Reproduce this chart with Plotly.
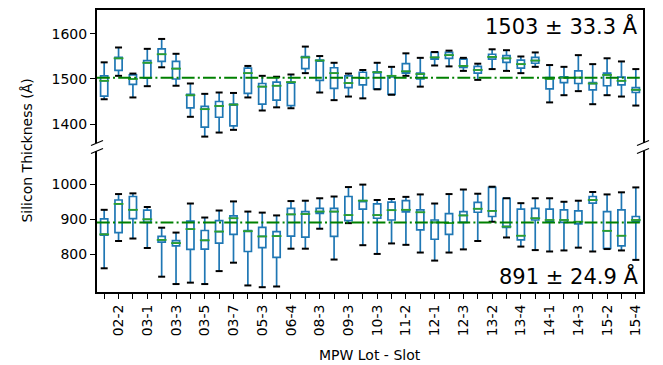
import plotly.graph_objects as go

# MPW lot-slot identifiers (every other one is labelled on the axis)
lots = ["02-1", "02-2", "02-3", "03-1", "03-2", "03-3", "03-4", "03-5", "03-6", "03-7",
        "05-2", "05-3", "06-3", "06-4", "08-2", "08-3", "09-2", "09-3", "10-2", "10-3",
        "11-1", "11-2", "11-3", "12-1", "12-2", "12-3", "13-1", "13-2", "13-3", "13-4",
        "13-5", "14-1", "14-2", "14-3", "15-1", "15-2", "15-3", "15-4"]

# Thick silicon layer (Å): whisker ends, quartiles and medians
top_lo = [1455, 1507, 1459, 1484, 1526, 1485, 1416, 1372, 1381, 1387, 1459, 1430, 1437,
          1435, 1513, 1470, 1453, 1461, 1457, 1477, 1465, 1507, 1483, 1530, 1528, 1518,
          1498, 1522, 1518, 1513, 1527, 1448, 1464, 1473, 1444, 1464, 1461, 1441]
top_q1 = [1462, 1519, 1488, 1502, 1539, 1500, 1436, 1393, 1415, 1396, 1468, 1444, 1453,
          1441, 1523, 1497, 1479, 1481, 1487, 1478, 1466, 1513, 1500, 1544, 1546, 1526,
          1513, 1544, 1537, 1524, 1535, 1478, 1492, 1490, 1476, 1485, 1487, 1470]
top_med = [1496, 1546, 1500, 1536, 1555, 1523, 1464, 1433, 1440, 1443, 1513, 1483, 1485,
           1493, 1548, 1541, 1513, 1491, 1502, 1515, 1507, 1517, 1511, 1548, 1553, 1529,
           1520, 1549, 1546, 1533, 1541, 1500, 1503, 1503, 1490, 1509, 1496, 1476]
top_q3 = [1507, 1548, 1509, 1541, 1567, 1539, 1466, 1439, 1450, 1444, 1524, 1490, 1493,
          1493, 1550, 1542, 1525, 1507, 1515, 1516, 1507, 1534, 1513, 1559, 1559, 1544,
          1528, 1555, 1552, 1542, 1548, 1503, 1505, 1518, 1492, 1513, 1504, 1481]
top_hi = [1537, 1570, 1512, 1567, 1589, 1556, 1490, 1467, 1470, 1469, 1529, 1507, 1505,
          1510, 1572, 1551, 1536, 1512, 1520, 1536, 1527, 1557, 1547, 1560, 1563, 1547,
          1534, 1566, 1564, 1550, 1559, 1531, 1527, 1553, 1533, 1546, 1539, 1522]

# Thin silicon layer (Å)
bot_lo = [760, 838, 845, 818, 736, 715, 719, 715, 752, 776, 711, 706, 708, 816, 816, 873,
          785, 889, 826, 801, 831, 827, 805, 782, 805, 814, 838, 893, 848, 822, 812, 808,
          811, 819, 808, 815, 811, 784]
bot_q1 = [855, 862, 902, 891, 835, 824, 814, 815, 832, 857, 808, 819, 791, 852, 849, 917,
          851, 896, 929, 903, 898, 921, 870, 843, 857, 891, 920, 908, 877, 841, 898, 893,
          891, 887, 946, 817, 824, 893]
bot_med = [857, 944, 927, 900, 841, 832, 872, 840, 865, 903, 866, 851, 852, 914, 915, 922,
           922, 912, 953, 912, 926, 927, 920, 891, 889, 911, 930, 924, 879, 853, 903, 898,
           898, 893, 955, 867, 853, 898]
bot_q3 = [901, 955, 965, 926, 851, 839, 895, 868, 896, 910, 868, 877, 865, 931, 922, 931,
          931, 965, 953, 944, 949, 953, 927, 898, 916, 922, 948, 991, 960, 929, 931, 929,
          927, 924, 965, 922, 927, 908]
bot_hi = [927, 972, 974, 935, 876, 862, 945, 905, 925, 951, 922, 919, 911, 952, 953, 960,
          965, 992, 999, 955, 958, 964, 971, 945, 972, 985, 973, 993, 960, 946, 960, 960,
          950, 953, 978, 971, 977, 991]

# Overall mean and standard deviation of each layer
top_mean, top_std = 1503, 33.3
bot_mean, bot_std = 891, 24.9

BLUE = "#1f77b4"
MED_GREEN = "#2ca02c"
LINE_GREEN = "#008000"
FONT = "DejaVu Sans"

pos = list(range(len(lots)))
fig = go.Figure()


def add_panel(lo, q1, med, q3, hi, xa, ya):
    fig.add_trace(go.Box(
        x=pos, q1=q1, median=med, q3=q3, lowerfence=lo, upperfence=hi,
        width=0.5, whiskerwidth=0, boxpoints=False,
        line=dict(color=BLUE, width=1.7), fillcolor="rgba(0,0,0,0)",
        xaxis=xa, yaxis=ya, hoverinfo="skip", showlegend=False))
    # green median bars
    fig.add_trace(go.Scatter(
        x=pos, y=med, mode="markers", xaxis=xa, yaxis=ya, showlegend=False,
        marker=dict(symbol="line-ew", size=7, line=dict(color=MED_GREEN, width=1.8)),
        hoverinfo="skip"))
    # black whisker caps
    fig.add_trace(go.Scatter(
        x=pos + pos, y=lo + hi, mode="markers", xaxis=xa, yaxis=ya, showlegend=False,
        marker=dict(symbol="line-ew", size=5, line=dict(color="black", width=2)),
        hoverinfo="skip"))


add_panel(top_lo, top_q1, top_med, top_q3, top_hi, "x", "y")
add_panel(bot_lo, bot_q1, bot_med, bot_q3, bot_hi, "x2", "y2")

# mean lines
dash = "12.8px,3.2px,2px,3.2px"
for m, yr in ((top_mean, "y"), (bot_mean, "y2")):
    fig.add_shape(type="line", xref="x domain", yref=yr, x0=0, x1=1, y0=m, y1=m,
                  line=dict(color=LINE_GREEN, width=2, dash=dash))

top_dom = [0.5284, 1.0]
bot_dom = [0.0, 0.5]

axis_common = dict(range=[-0.5, 37.5], showgrid=False, zeroline=False,
                   showline=True, linecolor="black", linewidth=2)
fig.update_layout(
    width=663, height=365,
    margin=dict(l=97, r=20, t=10, b=73),
    plot_bgcolor="white", paper_bgcolor="white",
    font=dict(family=FONT, size=14, color="black"),
    xaxis=dict(axis_common, anchor="y", side="top", ticks="", showticklabels=False),
    xaxis2=dict(axis_common, anchor="y2", matches="x", ticks="outside", ticklen=5,
                tickwidth=1, tickcolor="black", tickvals=pos,
                ticktext=[n if i % 2 == 1 else "" for i, n in enumerate(lots)],
                tickangle=-90, tickfont=dict(size=14)),
    yaxis=dict(domain=top_dom, range=[1357.8, 1653.3], tickvals=[1400, 1500, 1600],
               showgrid=False, zeroline=False, showline=True, mirror=True,
               linecolor="black", linewidth=2, ticks="outside", ticklen=5,
               tickwidth=1, tickcolor="black", anchor="x"),
    yaxis2=dict(domain=bot_dom, range=[692.3, 1095], tickvals=[800, 900, 1000],
                showgrid=False, zeroline=False, showline=True, mirror=True,
                linecolor="black", linewidth=2, ticks="outside", ticklen=5,
                tickwidth=1, tickcolor="black", anchor="x2"),
)

# diagonal break marks where the axis is cut
dx, dy = 6 / 546, 2.5 / 282
for xc in (0, 1):
    for yc in (top_dom[0], bot_dom[1]):
        fig.add_shape(type="line", xref="paper", yref="paper",
                      x0=xc - dx, x1=xc + dx, y0=yc - dy, y1=yc + dy,
                      line=dict(color="black", width=1.2))

fig.add_annotation(text=f"{top_mean} ± {top_std} Å", xref="paper", yref="paper",
                   x=0.994, y=0.943, xanchor="right", yanchor="middle",
                   showarrow=False, font=dict(size=21))
fig.add_annotation(text=f"{bot_mean} ± {bot_std} Å", xref="paper", yref="paper",
                   x=0.994, y=0.0585, xanchor="right", yanchor="middle",
                   showarrow=False, font=dict(size=21))
fig.add_annotation(text="Silicon Thickness (Å)", xref="paper", yref="paper",
                   x=-0.129, y=0.5, xanchor="center", yanchor="middle",
                   textangle=-90, showarrow=False, font=dict(size=14))
fig.add_annotation(text="MPW Lot - Slot", xref="paper", yref="paper",
                   x=0.5, y=-0.223, xanchor="center", yanchor="middle",
                   showarrow=False, font=dict(size=14))

fig.write_html("out.html")
